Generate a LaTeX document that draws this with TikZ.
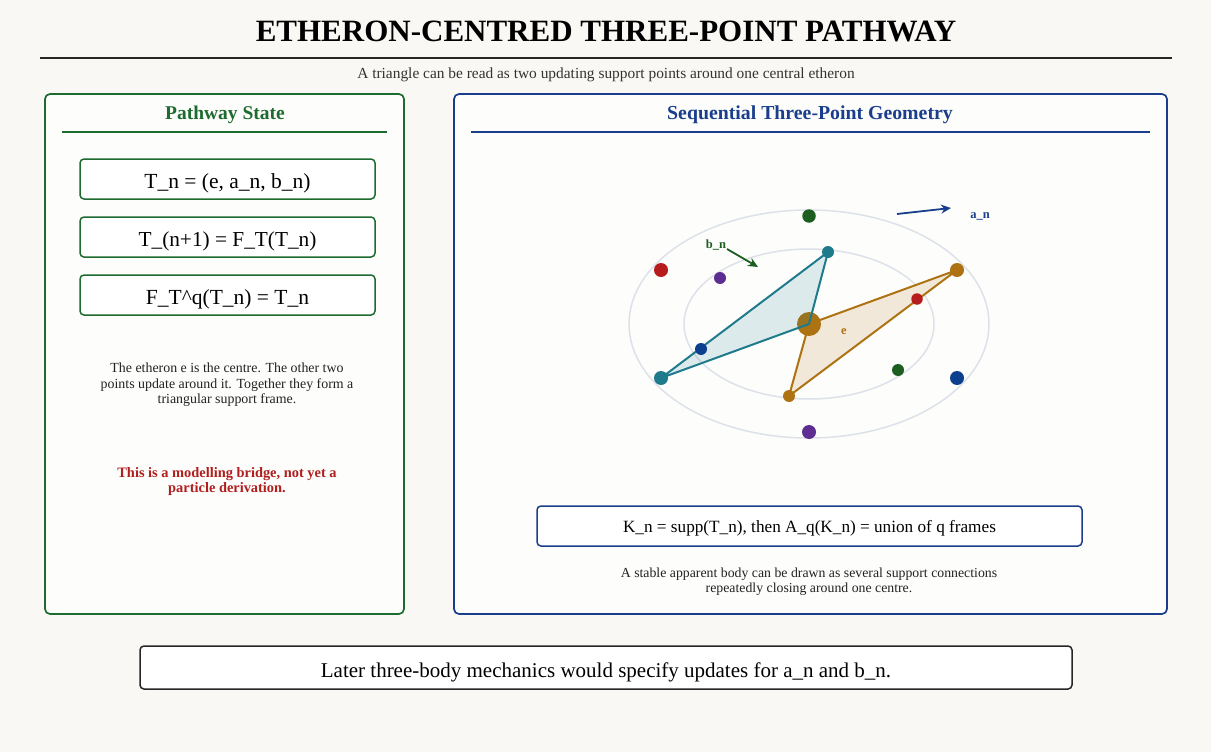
\documentclass[tikz,border=0pt]{standalone}
\usepackage{fontspec}
\setmainfont{Liberation Serif}
\usetikzlibrary{arrows.meta}
\definecolor{pagebg}{HTML}{F9F8F4}
\definecolor{panelbg}{HTML}{FDFDFB}
\definecolor{pgreen}{HTML}{1E6B30}
\definecolor{pblue}{HTML}{1A3E8C}
\definecolor{warnred}{HTML}{B01E1E}
\definecolor{teal}{HTML}{1F7A8C}
\definecolor{ochre}{HTML}{AD7212}
\definecolor{orbit}{HTML}{DDE1EA}
\definecolor{dgreen}{HTML}{1B5E20}
\definecolor{dred}{HTML}{B71C1C}
\definecolor{dpurple}{HTML}{5E2D91}
\definecolor{dblue}{HTML}{0D3F8F}
\definecolor{bodytext}{HTML}{222222}
\newcommand{\fs}[1]{\fontsize{#1}{#1}\selectfont}
\begin{document}
\begin{tikzpicture}[x=1pt,y=-1pt,
  panel/.style={draw=#1, line width=1.7pt, rounded corners=5pt, fill=panelbg},
  formbox/.style={draw=#1, line width=1.5pt, rounded corners=4pt, fill=white},
  dot/.style={circle, fill=#1, inner sep=0pt},
  txt/.style={inner sep=0pt, anchor=base, text=bodytext},
  edge/.style={line width=2pt, line join=round},
  move/.style={draw=#1, line width=1.8pt, -{Stealth[length=10pt,width=9pt]}}
]
\useasboundingbox (0,0) rectangle (1211,752);
\fill[pagebg] (0,0) rectangle (1211,752);

% header
\node[txt, text=black] (title) at (606,42) {\fs{31}\bfseries ETHERON-CENTRED THREE-POINT PATHWAY};
\coordinate (ruleL) at (40,58);
\coordinate (ruleR) at (1172,58);
\draw[line width=1.5pt, black!85] (ruleL) -- (ruleR);
\node[txt, text=black!80] (subtitle) at (606,78) {\fs{15.4}A triangle can be read as two updating support points around one central etheron};

% left panel: state equations
\draw[panel=pgreen] (45,94) rectangle (404,614);
\node[txt, text=pgreen] (ltitle) at (225,120) {\fs{19.5}\bfseries Pathway State};
\coordinate (lruleL) at (62,132);
\coordinate (lruleR) at (387,132);
\draw[pgreen, line width=1.4pt] (lruleL) -- (lruleR);

\draw[formbox=pgreen] (80,159) rectangle (375,199);
\node[txt, text=black] (f1) at (227.5,188.5) {\fs{21.5}T\_n = (e, a\_n, b\_n)};
\draw[formbox=pgreen] (80,217) rectangle (375,257);
\node[txt, text=black] (f2) at (227.5,246.5) {\fs{21.3}T\_(n+1) = F\_T(T\_n)};
\draw[formbox=pgreen] (80,275) rectangle (375,315);
\node[txt, text=black] (f3) at (227.5,304) {\fs{21.5}F\_T\textasciicircum q(T\_n) = T\_n};

\node[txt] (lpara1) at (227,372) {\fs{13.9}The etheron e is the centre. The other two};
\node[txt] (lpara2) at (227,388) {\fs{13.9}points update around it. Together they form a};
\node[txt] (lpara3) at (227,403.5) {\fs{13.9}triangular support frame.};
\node[txt, text=warnred] (lwarn1) at (227,477) {\fs{14.4}\bfseries This is a modelling bridge, not yet a};
\node[txt, text=warnred] (lwarn2) at (227,492) {\fs{14.4}\bfseries particle derivation.};

% right panel: geometry
\draw[panel=pblue] (454,94) rectangle (1167,614);
\node[txt, text=pblue] (rtitle) at (810,120) {\fs{19.8}\bfseries Sequential Three-Point Geometry};
\coordinate (rruleL) at (471,132);
\coordinate (rruleR) at (1150,132);
\draw[pblue, line width=1.4pt] (rruleL) -- (rruleR);

% orbits
\coordinate (e) at (809,324);
\draw[orbit, line width=1.5pt] (e) ellipse [x radius=180, y radius=114];
\draw[orbit, line width=1.5pt] (e) ellipse [x radius=125, y radius=75];

% support points
\coordinate (tA) at (828,252);
\coordinate (tB) at (661,378);
\coordinate (oA) at (957,270);
\coordinate (oB) at (789,396);

% orange frame
\filldraw[edge, draw=ochre, fill=ochre!16] (e) -- (oA) -- (oB) -- cycle;
\node[dot=ochre, minimum size=24pt] (centre) at (e) {};
% teal frame
\filldraw[edge, draw=teal, fill=teal, fill opacity=0.14] (e) -- (tA) -- (tB) -- cycle;

% orbit dots
\node[dot=dgreen, minimum size=13.5pt] (g1) at (809,216) {};
\node[dot=dred, minimum size=14pt] (r1) at (661,270) {};
\node[dot=dpurple, minimum size=12pt] (p1) at (720,278) {};
\node[dot=teal, minimum size=12pt] (ta) at (tA) {};
\node[dot=ochre, minimum size=14pt] (oa) at (oA) {};
\node[dot=dred, minimum size=11.5pt] (r2) at (917,299) {};
\node[dot=dblue, minimum size=12pt] (b1) at (701,349) {};
\node[dot=teal, minimum size=14pt] (tb) at (tB) {};
\node[dot=ochre, minimum size=12pt] (ob) at (oB) {};
\node[dot=dgreen, minimum size=12pt] (g2) at (898,370) {};
\node[dot=dblue, minimum size=14pt] (b2) at (957,378) {};
\node[dot=dpurple, minimum size=14pt] (p2) at (809,432) {};

\node[txt, text=ochre] (elabel) at (844,334) {\fs{12.5}\bfseries e};

% update arrows
\coordinate (aS) at (897,214);
\coordinate (aE) at (951,208);
\draw[move=pblue] (aS) -- (aE);
\node[txt, text=pblue] (alabel) at (980,218) {\fs{12.5}\bfseries a\_n};
\node[txt, text=dgreen] (blabel) at (716,248) {\fs{12.5}\bfseries b\_n};
\coordinate (bS) at (727,249);
\coordinate (bE) at (758,267);
\draw[move=dgreen] (bS) -- (bE);

% support formula
\draw[formbox=pblue] (537,506) rectangle (1082,546);
\node[txt, text=black] (kform) at (809.5,532) {\fs{17.2}K\_n = supp(T\_n), then A\_q(K\_n) = union of q frames};
\node[txt] (rpara1) at (809,577) {\fs{13.8}A stable apparent body can be drawn as several support connections};
\node[txt] (rpara2) at (809,592) {\fs{13.8}repeatedly closing around one centre.};

% footer
\draw[formbox=black!85] (140,646) rectangle (1072,689);
\node[txt, text=black] (footer) at (606,677) {\fs{21}Later three-body mechanics would specify updates for a\_n and b\_n.};
\end{tikzpicture}
\end{document}
